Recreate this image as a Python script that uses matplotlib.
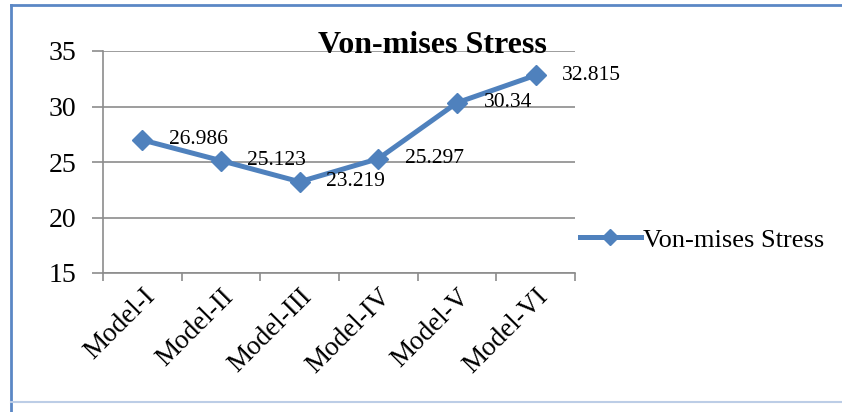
import matplotlib.pyplot as plt
from matplotlib.lines import Line2D

models = ["Model-I", "Model-II", "Model-III", "Model-IV", "Model-V", "Model-VI"]
stress = [26.986, 25.123, 23.219, 25.297, 30.34, 32.815]
value_labels = ["26.986", "25.123", "23.219", "25.297", "30.34", "32.815"]

plt.rcParams["font.family"] = ["Liberation Serif", "DejaVu Serif"]

blue = "#4F81BD"
grey = "#8C8C8C"

fig = plt.figure(figsize=(8.42, 4.12), dpi=100)
ax = fig.add_axes([103 / 842, 1 - 273 / 412, 472 / 842, 222 / 412])

x = list(range(len(models)))
ax.plot(x, stress, color=blue, lw=3.6, marker="D", ms=10.5, mfc=blue, mec=blue,
        label="Von-mises Stress", solid_joinstyle="round")
for xi, yi, txt in zip(x, stress, value_labels):
    ax.annotate(txt, (xi, yi), xytext=(19, 0), textcoords="offset points",
                ha="left", va="center", fontsize=15.5)

ax.set_xlim(-0.5, len(models) - 0.5)
ax.set_ylim(15, 35)
ax.set_yticks([15, 20, 25, 30, 35])
ax.yaxis.grid(True, color=grey, lw=1.2)
ax.set_axisbelow(True)
ax.set_xticks(x)
ax.set_xticklabels(models, rotation=45, ha="right", rotation_mode="anchor", fontsize=19.5)
ax.set_xticks([i - 0.5 for i in range(len(models) + 1)], minor=True)
ax.tick_params(axis="x", which="major", length=0, pad=8)
ax.tick_params(axis="x", which="minor", length=6, color=grey, width=1.2, direction="out")
ax.tick_params(axis="y", length=8, color=grey, width=1.2, labelsize=20, pad=11)
for s in ["top", "right"]:
    ax.spines[s].set_visible(False)
for s in ["left", "bottom"]:
    ax.spines[s].set_color(grey)
    ax.spines[s].set_linewidth(1.2)

ax.text(0.697, 0.991, "Von-mises Stress", transform=ax.transAxes, ha="center",
        va="baseline", fontsize=23, fontweight="bold")

leg = ax.legend(loc="center left", bbox_to_anchor=(1.0106, 0.149), frameon=False,
                fontsize=19, handlelength=2.3, handletextpad=0.1,
                borderaxespad=0, borderpad=0, markerscale=0.8)

# outer chart border: top and left darker, bottom lighter
fig.add_artist(Line2D([11 / 842, 1], [1 - 5 / 412] * 2, transform=fig.transFigure,
                      color="#5B87C5", lw=2))
fig.add_artist(Line2D([11 / 842] * 2, [0, 1 - 5 / 412], transform=fig.transFigure,
                      color="#5B87C5", lw=2))
fig.add_artist(Line2D([11 / 842, 1], [1 - 402 / 412] * 2, transform=fig.transFigure,
                      color="#BCCDE6", lw=1.5))

fig.savefig("out.png", dpi=100)
